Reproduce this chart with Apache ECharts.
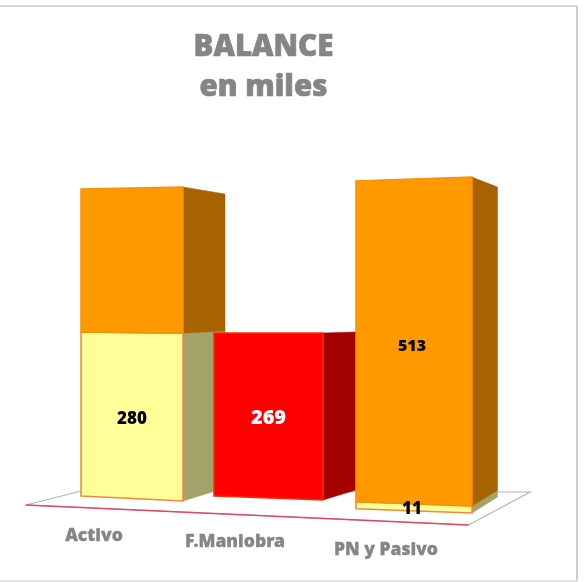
<!DOCTYPE html>
<html>
<head>
<meta charset="utf-8">
<style>html,body{margin:0;padding:0;background:#fff}#chart{width:586px;height:582px}</style>
<script src="https://cdn.jsdelivr.net/npm/echarts@6/dist/echarts.min.js"></script>
</head>
<body>
<div id="chart"></div>
<script>
// ---- data ----
const categories = ['Activo', 'F.Maniobra', 'PN y Pasivo'];
const lightValues = [280, null, 11];
const redValues = [null, 269, null];
const orangeValues = [244, null, 513];
const orangeLabelled = [false, false, true];

// ---- faux-3D layout, relative to the axis scales ----
const FONT = '"Noto Sans","Open Sans",sans-serif';
const REF = 524;
const box = [
  {left:-51, width:102, depth:42,   bl:-4,  br:1,  s:0.9765, tilt:-7,  back:-13, slope:20},
  {left:-59, width:109, depth:33,   bl:-4,  br:0,  s:1.01,   tilt:-7.8,back:-10, slope:17.5},
  {left:-58, width:116, depth:25.5, bl:8.7, br:13, s:1.042,  tilt:-8.3,back:-16, slope:26}
];
const labelStyle = {
  light:  {front:'#FFFF99', side:'#A3A369', stroke:'#F0873A', text:'#000'},
  red:    {front:'#FF0000', side:'#A30000', stroke:'#F2300C', text:'#fff'},
  orange: {front:'#FF9900', side:'#A66300', stroke:'#F98F08', text:'#000'}
};
// font size and label nudge [dx, dy] per bar box
const labelFont = {light:17, red:20, orange:16};
const labelNudge = {light:[[0,4],[0,0],[-2,2]], red:[[0,0],[0,3],[0,0]], orange:[[0,0],[0,0],[-2,5]]};

function makeBarSeries(name, values, starts, labelled, styleKey) {
  const data = values.map((v, i) => v == null ? null : [i, starts[i] || 0, starts[i] + v]).filter(Boolean);
  const st = labelStyle[styleKey];
  return {
    type: 'custom', name, data, silent: true, clip: false,
    encode: {x: 0, y: [1, 2]},
    renderItem(params, api) {
      const i = api.value(0), from = api.value(1), to = api.value(2);
      const g = box[i];
      const c0 = api.coord([i, 0]);
      const h = v => (c0[1] - api.coord([i, v])[1]) * g.s;
      const xL = c0[0] + g.left, xR = xL + g.width, xB = xR + g.depth;
      const yL = v => c0[1] + g.bl - h(v);
      const yR = v => c0[1] + g.br - h(v) + g.tilt * v / REF;
      const yB = v => yR(v) + g.back + g.slope * v / REF;
      const kids = [
        {type:'polygon', shape:{points:[[xR,yR(from)],[xB,yB(from)],[xB,yB(to)],[xR,yR(to)]]},
         style:{fill:st.side, stroke:st.side, lineWidth:0.5}},
        {type:'polygon', shape:{points:[[xL,yL(from)],[xR,yR(from)],[xR,yR(to)],[xL,yL(to)]]},
         style:{fill:st.front, stroke:st.stroke, lineWidth:1.5}}
      ];
      if (labelled[i]) {
        const n = labelNudge[styleKey][i];
        kids.push({type:'text', z2:100,
          x:(xL + xR) / 2 + n[0],
          y:(yL((from+to)/2) + yR((from+to)/2)) / 2 + n[1],
          style:{text:String(to - from), fill:st.text, font:'900 ' + labelFont[styleKey] + 'px ' + FONT, align:'center', verticalAlign:'middle'}});
      }
      return {type:'group', children:kids};
    }
  };
}

const floorSeries = {
  type:'custom', name:'floor', silent:true, clip:false, data:[[0,0]],
  encode:{x:0, y:1},
  renderItem(params, api) {
    const o = api.coord([0, 0]);
    const P = (dx, dy) => [o[0] + dx, o[1] + dy];
    return {type:'group', children:[
      {type:'polygon', shape:{points:[P(-106,5),P(336.7,25),P(398,-8),P(-51,-9)]},
       style:{fill:'#fff', stroke:'#B4B4B8', lineWidth:1.2}},
      {type:'line', shape:{x1:o[0]-106,y1:o[1]+5,x2:o[0]+336.7,y2:o[1]+25},
       style:{stroke:'#E4475F', lineWidth:1.5}}
    ]};
  }
};

const zeros = [0, 0, 0];
const chart = echarts.init(document.getElementById('chart'), null, {renderer:'canvas'});
const axisFont = {fontFamily:FONT, fontWeight:900, fontSize:17.5, color:'#858585', textBorderColor:'#858585', textBorderWidth:0.3};
chart.setOption({
  animation:false,
  backgroundColor:'#fff',
  title:{
    text:'BALANCE\nen miles', left:258.5, top:23, textAlign:'center',
    textStyle:{fontFamily:FONT, fontWeight:900, fontSize:29.5, lineHeight:40, color:'#858585', textBorderColor:'#858585', textBorderWidth:0.7}
  },
  grid:{left:61.5, width:423, top:140, height:360},
  xAxis:{
    type:'category', data:categories,
    axisLine:{show:false}, axisTick:{show:false}, splitLine:{show:false},
    axisLabel:{
      interval:0, margin:27, hideOverlap:false,
      formatter:(v, i) => '{c' + i + '|' + v + '}',
      rich:{
        c0:Object.assign({padding:[0,76,0,0]}, axisFont),
        c1:Object.assign({padding:[6,76,0,0]}, axisFont),
        c2:Object.assign({padding:[14,56,0,0]}, axisFont)
      }
    }
  },
  yAxis:{type:'value', min:0, max:600, show:false},
  series:[
    floorSeries,
    makeBarSeries('light', lightValues, zeros, [true, false, true], 'light'),
    makeBarSeries('red', redValues, zeros, [false, true, false], 'red'),
    makeBarSeries('orange', orangeValues, lightValues.map(v => v || 0), orangeLabelled, 'orange')
  ],
  graphic:[
    {type:'line', shape:{x1:0,y1:6,x2:577,y2:6}, style:{stroke:'#D9D9D9', lineWidth:2}},
    {type:'line', shape:{x1:577,y1:6,x2:577,y2:581}, style:{stroke:'#BFBFBF', lineWidth:1.5}},
    {type:'line', shape:{x1:0,y1:581,x2:577,y2:581}, style:{stroke:'#D9D9D9', lineWidth:1.5}}
  ]
});
</script>
</body>
</html>
